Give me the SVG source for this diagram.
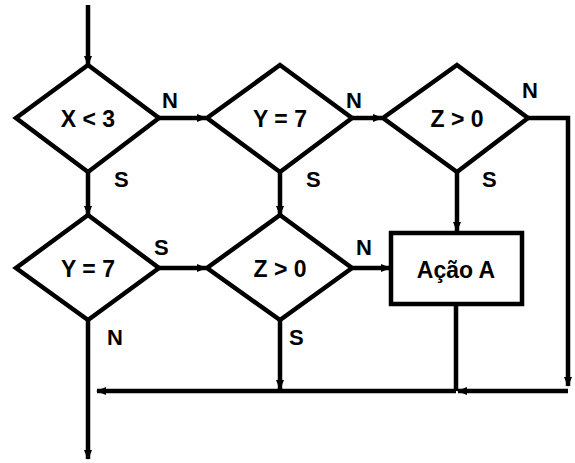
<svg xmlns="http://www.w3.org/2000/svg" width="575" height="463" viewBox="0 0 575 463">
<style>
.s{fill:none;stroke:#000;stroke-width:4.5;stroke-linejoin:miter}
.c{fill:none;stroke:#000;stroke-width:4.5}
.t{font-family:"Liberation Sans",Arial,sans-serif;font-weight:bold;font-size:23px;fill:#000}
.l{font-family:"Liberation Sans",Arial,sans-serif;font-weight:bold;font-size:22px;fill:#000}
.m{text-anchor:middle}
</style>
<defs>
<marker id="a" markerWidth="10" markerHeight="8" refX="9" refY="4" orient="auto" markerUnits="userSpaceOnUse">
<path d="M0,0 L10,4 L0,8 Z" fill="#000"/>
</marker>
</defs>
<rect width="575" height="463" fill="#fff"/>
<g id="connectors">
<line class="c" x1="88" y1="5" x2="88" y2="65" marker-end="url(#a)"/>
<line class="c" x1="159" y1="118" x2="206" y2="118" marker-end="url(#a)"/>
<line class="c" x1="352" y1="118" x2="382" y2="118" marker-end="url(#a)"/>
<polyline class="c" points="528,118 568,118 568,386" marker-end="url(#a)"/>
<line class="c" x1="457" y1="172" x2="457" y2="231" marker-end="url(#a)"/>
<line class="c" x1="88" y1="172" x2="88" y2="215" marker-end="url(#a)"/>
<line class="c" x1="280" y1="172" x2="280" y2="215" marker-end="url(#a)"/>
<line class="c" x1="159" y1="268" x2="206" y2="268" marker-end="url(#a)"/>
<line class="c" x1="352" y1="268" x2="390" y2="268" marker-end="url(#a)"/>
<line class="c" x1="280" y1="320" x2="280" y2="389" marker-end="url(#a)"/>
<line class="c" x1="88" y1="320" x2="88" y2="459" marker-end="url(#a)"/>
<line class="c" x1="456" y1="304" x2="456" y2="391"/>
<line class="c" x1="568" y1="391" x2="458" y2="391" marker-end="url(#a)"/>
<line class="c" x1="456" y1="391" x2="97" y2="391" marker-end="url(#a)"/>
<text class="l" x="162" y="108">N</text>
<text class="l" x="346" y="108">N</text>
<text class="l" x="522" y="98">N</text>
<text class="l" x="114" y="187">S</text>
<text class="l" x="306" y="187">S</text>
<text class="l" x="482" y="187">S</text>
<text class="l" x="154" y="255">S</text>
<text class="l" x="356" y="255">N</text>
<text class="l" x="107" y="345">N</text>
<text class="l" x="289" y="345">S</text>
</g>
<g id="d1"><polygon class="s" points="88,65 159,118 88,172 16,118"/><text class="t m" x="88" y="127">X &lt; 3</text></g>
<g id="d2"><polygon class="s" points="280,65 352,118 280,172 207,118"/><text class="t m" x="280" y="127">Y = 7</text></g>
<g id="d3"><polygon class="s" points="457,65 528,118 457,172 383,118"/><text class="t m" x="457" y="127">Z &gt; 0</text></g>
<g id="d4"><polygon class="s" points="88,215 159,268 88,320 16,268"/><text class="t m" x="88" y="277">Y = 7</text></g>
<g id="d5"><polygon class="s" points="280,215 352,268 280,320 207,268"/><text class="t m" x="280" y="277">Z &gt; 0</text></g>
<g id="box"><rect class="s" x="391" y="233" width="131" height="71"/><text class="t m" x="456" y="278">Ação A</text></g>
</svg>
